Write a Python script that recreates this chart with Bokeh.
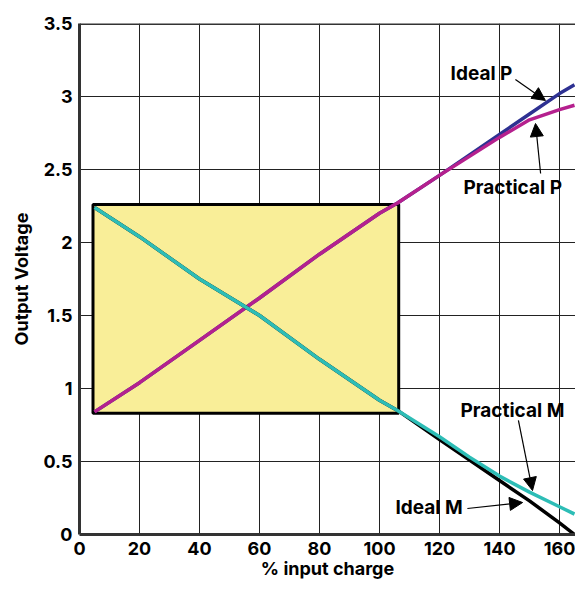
from bokeh.plotting import figure
from bokeh.models import Range1d, FixedTicker, Span, Label, Arrow, NormalHead
from bokeh.embed import file_html
from bokeh.resources import INLINE

# ---- data ----
charge = [5, 20, 40, 60, 80, 100, 106, 120, 130, 140, 150, 160, 165]
ideal_p = [0.84, 1.04, 1.33, 1.62, 1.92, 2.20, 2.27, 2.46, 2.60, 2.74, 2.88, 3.02, 3.08]
practical_p = [0.84, 1.04, 1.33, 1.62, 1.92, 2.20, 2.27, 2.46, 2.59, 2.72, 2.84, 2.91, 2.94]
ideal_m = [2.24, 2.04, 1.75, 1.50, 1.20, 0.92, 0.85, 0.65, 0.51, 0.37, 0.23, 0.08, 0.0]
practical_m = [2.24, 2.04, 1.75, 1.50, 1.20, 0.92, 0.85, 0.67, 0.53, 0.40, 0.29, 0.19, 0.14]
x_ticks = [0, 20, 40, 60, 80, 100, 120, 140, 160]
y_ticks = [0, 0.5, 1, 1.5, 2, 2.5, 3, 3.5]
box_x = [4.5, 106.4]
box_y = [0.83, 2.26]

FONT = "Inter"

p = figure(width=575, height=584, output_backend="svg", toolbar_location=None,
           x_range=Range1d(0, 165.33), y_range=Range1d(0, 3.5),
           min_border_left=79, min_border_right=0, min_border_top=23, min_border_bottom=50)
p.outline_line_color = None
p.background_fill_color = "white"

for ax in (p.xaxis[0], p.yaxis[0]):
    ax.axis_line_width = 3
    ax.axis_line_color = "#333333"
    ax.major_tick_in = 0
    ax.major_tick_out = 0
    ax.minor_tick_in = 0
    ax.minor_tick_out = 0
    ax.major_label_text_font = FONT
    ax.major_label_text_font_style = "bold"
    ax.major_label_text_font_size = "18px"
    ax.major_label_text_color = "black"
    ax.axis_label_text_font = FONT
    ax.axis_label_text_font_style = "bold"
    ax.axis_label_text_font_size = "18px"
    ax.axis_label_text_color = "black"

p.xaxis[0].ticker = FixedTicker(ticks=x_ticks)
p.yaxis[0].ticker = FixedTicker(ticks=y_ticks)
p.xaxis[0].major_label_standoff = 7
p.yaxis[0].major_label_standoff = 7
p.xaxis[0].axis_label = "% input charge"
p.yaxis[0].axis_label = "Output Voltage"
p.xaxis[0].axis_label_standoff = 0
p.yaxis[0].axis_label_standoff = 8

p.xgrid[0].ticker = FixedTicker(ticks=x_ticks)
p.ygrid[0].ticker = FixedTicker(ticks=y_ticks)
for g in (p.xgrid[0], p.ygrid[0]):
    g.grid_line_color = "#222222"
    g.grid_line_width = 1

p.add_layout(Span(location=3.5, dimension="width", line_color="#333333", line_width=3))

# shaded box
p.quad(left=[box_x[0]], right=[box_x[1]], bottom=[box_y[0]], top=[box_y[1]],
       fill_color="#F9EE98", line_color="black", line_width=3)

# curves
p.line(charge, ideal_p, line_color="#2E3192", line_width=3.5)
p.line(charge, practical_p, line_color="#B5208E", line_width=3.5)
p.line(charge, ideal_m, line_color="black", line_width=3.5)
p.line(charge, practical_m, line_color="#2DBDB6", line_width=3.5)

# annotations
def lab(x, y, t):
    p.add_layout(Label(x=x, y=y, text=t, text_font=FONT, text_font_style="bold",
                       text_font_size="19px", text_color="black",
                       text_align="left", text_baseline="middle"))

def arr(x0, y0, x1, y1):
    p.add_layout(Arrow(x_start=x0, y_start=y0, x_end=x1, y_end=y1, line_color="black",
                       line_width=1.2,
                       end=NormalHead(size=13, fill_color="black", line_color="black")))

lab(123.7, 3.157, "Ideal P")
arr(145.3, 3.116, 155.3, 2.973)
lab(128.0, 2.38, "Practical P")
arr(153.7, 2.473, 152.0, 2.815)
lab(127.0, 0.849, "Practical M")
arr(146.3, 0.781, 151.0, 0.301)
lab(105.3, 0.188, "Ideal M")
arr(129.3, 0.178, 147.7, 0.219)

open("out.html", "w").write(file_html(p, INLINE))
